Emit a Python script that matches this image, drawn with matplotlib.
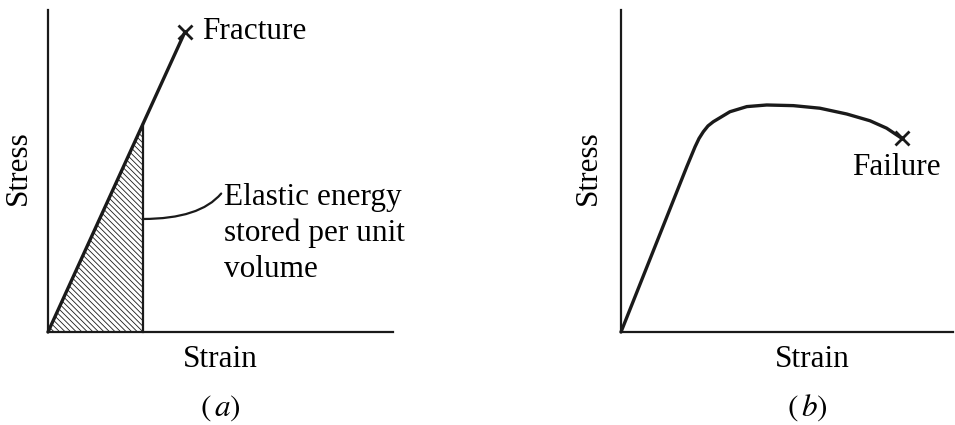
import numpy as np
import matplotlib.pyplot as plt

plt.rcParams['font.family'] = 'Liberation Serif'
plt.rcParams['mathtext.fontset'] = 'stix'
plt.rcParams['hatch.linewidth'] = 0.6
plt.rcParams['hatch.color'] = '#444444'

# (a) brittle material: straight line up to fracture
brittle_strain = [0.0, 0.397]
brittle_stress = [0.0, 0.932]
elastic_strain = 0.275          # right edge of the shaded triangle

# (b) ductile material: elastic rise, rounded yield, then drop to failure
ductile_strain = [0.0, 0.198, 0.223, 0.235, 0.248, 0.262, 0.278, 0.328,
                  0.379, 0.439, 0.519, 0.599, 0.680, 0.750, 0.800, 0.845]
ductile_stress = [0.0, 0.513, 0.575, 0.601, 0.622, 0.640, 0.653, 0.684,
                  0.700, 0.705, 0.703, 0.695, 0.677, 0.656, 0.633, 0.602]

INK = '#1a1a1a'
FS = 22.5


def bare_axes(ax):
    ax.set_xlim(0, 1)
    ax.set_ylim(0, 1)
    for side in ('top', 'right'):
        ax.spines[side].set_visible(False)
    for side in ('left', 'bottom'):
        ax.spines[side].set_linewidth(1.6)
        ax.spines[side].set_color(INK)
    ax.set_xticks([])
    ax.set_yticks([])
    ax.set_xlabel('Strain', fontsize=FS)
    ax.set_ylabel('Stress', fontsize=FS)


fig = plt.figure(figsize=(9.55, 4.25), dpi=100)
ax1 = fig.add_axes([48 / 955, 93 / 425, 345 / 955, 322 / 425])
ax2 = fig.add_axes([621 / 955, 93 / 425, 332 / 955, 322 / 425])

# ---- (a)
bare_axes(ax1)
slope = brittle_stress[1] / brittle_strain[1]
tri_x = [0.0, elastic_strain, elastic_strain]
tri_y = [0.0, elastic_strain * slope, 0.0]
ax1.fill(tri_x, tri_y, facecolor='white', edgecolor=INK,
         hatch='\\\\\\\\\\\\', linewidth=0)
ax1.plot([elastic_strain, elastic_strain], [0, elastic_strain * slope],
         color=INK, lw=1.6, clip_on=False)
ax1.plot(brittle_strain, brittle_stress, color=INK, lw=2.4, clip_on=False,
         solid_capstyle='round')
ax1.plot(brittle_strain[-1], brittle_stress[-1], marker='x', ms=10, mew=2,
         color=INK, clip_on=False)
ax1.text(0.446, 0.932, 'Fracture', fontsize=FS, va='center', ha='left')
ax1.annotate('', xy=(elastic_strain, 0.351), xytext=(0.502, 0.43),
             arrowprops=dict(arrowstyle='-', color=INK, lw=1.6,
                             connectionstyle='angle3,angleA=50,angleB=0',
                             shrinkA=0, shrinkB=0))
ax1.text(0.51, 0.463, 'Elastic energy\nstored per unit\nvolume',
         fontsize=FS, ha='left', va='top', linespacing=1.3)
ax1.xaxis.set_label_coords(0.5, -0.04)
ax1.yaxis.set_label_coords(-0.043, 0.512)
ax1.text(0.5, -0.235, r'$(\,a)$', fontsize=FS, ha='center', va='center',
         transform=ax1.transAxes)

# ---- (b)
bare_axes(ax2)
ax2.plot(ductile_strain, ductile_stress, color=INK, lw=2.4, clip_on=False,
         solid_capstyle='round', solid_joinstyle='round')
ax2.plot(ductile_strain[-1], ductile_stress[-1], marker='x', ms=10, mew=2,
         color=INK, clip_on=False)
ax2.text(0.828, 0.51, 'Failure', fontsize=FS, ha='center', va='center')
ax2.xaxis.set_label_coords(0.575, -0.04)
ax2.yaxis.set_label_coords(-0.054, 0.512)
ax2.text(0.56, -0.235, r'$(\,b)$', fontsize=FS, ha='center', va='center',
         transform=ax2.transAxes)

plt.savefig('out.png', dpi=100)
